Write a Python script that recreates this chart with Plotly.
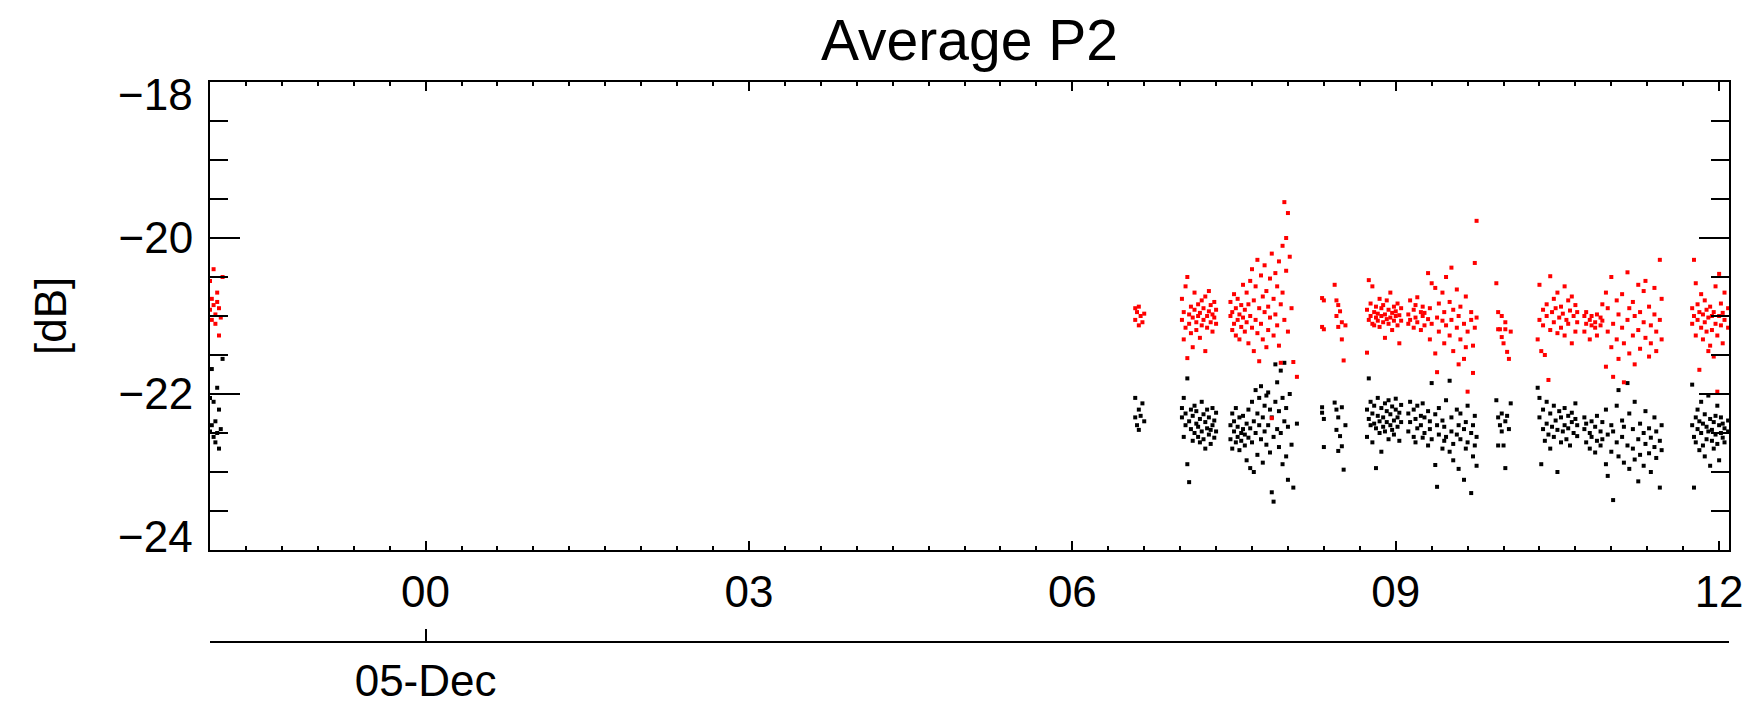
import pandas as pd
import plotly.graph_objects as go

# ---------------- data (minutes from 05-Dec 00:00, dB values) ----------------
t_L = [-120, -120, -119, -119, -118, -118, -117, -117, -116, -116, -115, -115, -114, -113]
red_L = [-20.55, -20.92, -20.78, -21.05, -20.86, -20.40, -20.98, -21.10, -20.82, -20.70, -21.25, -20.90, -21.02, -20.50]
blk_L = [-22.05, -22.48, -21.68, -22.40, -22.55, -22.10, -22.62, -22.35, -21.92, -22.50, -22.20, -22.70, -22.45, -21.55]

t_A = [395, 395, 396, 397, 397, 398, 399, 400]
red_A = [-20.90, -21.05, -20.95, -21.12, -20.88, -21.00, -21.08, -20.97]
blk_A = [-22.30, -22.05, -22.40, -22.20, -22.46, -22.28, -22.12, -22.35]

t_B = [421, 421, 422, 422, 423, 423, 424, 424, 425, 425, 426, 426, 427, 427, 428, 428, 429, 429, 430, 430,
       431, 431, 432, 432, 433, 433, 434, 434, 435, 435, 436, 436, 437, 437, 438, 438, 439, 439, 440, 440]
red_B = [-21.05, -20.78, -21.30, -20.95, -21.15, -20.62, -20.50, -21.54, -20.98, -21.10, -21.22, -20.88, -21.40, -21.02,
         -20.92, -20.70, -21.08, -21.18, -20.85, -21.00, -21.28, -20.96, -20.80, -21.12, -21.05, -20.90, -21.45, -20.75,
         -21.00, -21.15, -20.94, -20.68, -21.08, -20.86, -21.20, -20.98, -21.02, -20.82, -21.10, -20.92]
blk_B = [-22.30, -22.18, -22.55, -22.05, -22.40, -22.25, -21.80, -22.90, -23.13, -22.35, -22.20, -22.45, -22.60, -22.28,
         -22.15, -22.50, -22.38, -22.22, -22.55, -22.42, -22.32, -22.62, -22.10, -22.48, -22.26, -22.58, -22.36, -22.70,
         -22.44, -22.20, -22.52, -22.30, -22.46, -22.64, -22.18, -22.40, -22.34, -22.56, -22.24, -22.48]

t_C = [448, 448, 449, 449, 450, 450, 451, 451, 452, 452, 453, 453, 454, 454, 455, 455, 456, 456, 457, 457,
       458, 458, 459, 459, 460, 460, 461, 461, 462, 462, 463, 463, 464, 464, 465, 465, 466, 466, 467, 467,
       468, 468, 469, 469, 470, 470, 471, 471, 472, 472, 473, 473, 474, 474, 475, 475, 476, 476, 477, 477,
       478, 478, 479, 479, 480, 480, 481, 482, 483, 485]
red_C = [-21.00, -20.82, -21.18, -20.95, -20.72, -21.10, -21.25, -20.90, -21.05, -20.78, -21.30, -20.98, -20.86, -21.14,
         -21.02, -20.60, -21.20, -20.92, -20.70, -21.08, -21.35, -20.85, -21.00, -20.55, -21.15, -20.40, -20.80, -21.45,
         -21.05, -20.62, -20.28, -21.22, -20.90, -21.58, -20.48, -21.10, -20.75, -21.30, -20.95, -20.35, -21.40, -20.68,
         -20.88, -21.18, -20.52, -21.02, -20.20, -22.31, -20.78, -21.25, -20.45, -20.98, -21.12, -20.62, -20.30, -21.38,
         -20.85, -21.60, -20.10, -20.70, -19.54, -21.05, -20.00, -20.42, -19.68, -21.20, -20.24, -20.90, -21.59, -21.78]
blk_C = [-22.40, -22.58, -22.25, -22.70, -22.48, -22.35, -22.62, -22.18, -22.55, -22.42, -22.30, -22.72, -22.50, -22.60,
         -22.45, -22.28, -22.66, -22.52, -22.38, -22.85, -22.20, -22.56, -22.95, -22.44, -22.10, -22.62, -22.35, -23.00,
         -21.95, -22.50, -22.25, -22.78, -22.05, -22.40, -22.58, -21.90, -22.30, -22.88, -22.15, -22.48, -22.65, -22.02,
         -21.98, -22.40, -22.20, -22.75, -23.26, -22.30, -22.55, -23.38, -21.62, -22.10, -22.45, -21.85, -22.68, -22.22,
         -21.70, -22.50, -22.90, -22.05, -22.35, -21.60, -22.80, -22.18, -23.10, -22.42, -22.00, -22.65, -23.20, -22.38]

t_D = [499, 499, 500, 500]
red_D = [-20.77, -21.14, -20.80, -21.17]
blk_D = [-22.17, -22.24, -22.32, -22.68]

t_E = [506, 507, 507, 508, 508, 509, 510, 510, 511, 512]
red_E = [-20.60, -20.80, -21.00, -20.86, -21.14, -20.94, -21.30, -21.08, -21.57, -21.12]
blk_E = [-22.11, -22.46, -22.20, -22.73, -22.30, -22.54, -22.17, -22.67, -22.97, -22.40]

t_F = [524, 524, 525, 525, 526, 526, 527, 527, 528, 528, 529, 529, 530, 530, 531, 531, 532, 532, 533, 533,
       534, 534, 535, 535, 536, 536, 537, 537, 538, 538, 539, 539, 540, 540, 541, 541, 542, 542, 543, 543]
red_F = [-21.47, -20.92, -20.54, -21.05, -20.84, -21.00, -21.10, -20.62, -20.95, -21.12, -20.88, -21.02, -21.06, -20.97,
         -20.78, -21.14, -21.00, -20.90, -21.08, -20.86, -20.98, -21.28, -21.04, -20.80, -20.92, -21.10, -21.02, -20.70,
         -20.96, -21.18, -21.06, -20.88, -20.94, -21.00, -21.12, -20.84, -20.99, -21.35, -20.90, -21.06]
blk_F = [-22.20, -22.55, -21.80, -22.32, -22.10, -22.40, -22.62, -22.25, -22.38, -22.15, -22.95, -22.44, -22.28, -22.05,
         -22.50, -22.35, -22.18, -22.74, -22.42, -22.30, -22.12, -22.48, -22.36, -22.22, -22.58, -22.08, -22.26, -22.40,
         -22.46, -22.16, -22.34, -22.52, -22.20, -22.06, -22.42, -22.30, -22.24, -22.60, -22.36, -22.14]

t_G = [547, 547, 548, 548, 550, 550, 551, 551, 552, 552, 554, 554, 555, 555, 556, 556, 558, 558, 559, 559,
       560, 560, 562, 562, 563, 563, 564, 564, 566, 566, 567, 567, 568, 568, 570, 570, 571, 571, 572, 572,
       574, 574, 575, 575, 576, 576, 578, 578, 579, 579, 580, 580, 582, 582, 583, 583, 584, 584, 585, 585]
red_G = [-20.98, -21.10, -20.80, -21.05, -21.15, -20.92, -20.86, -21.02, -21.08, -20.76, -20.95, -21.18, -21.00, -20.88,
         -21.12, -20.96, -20.45, -21.04, -21.30, -20.90, -20.58, -21.10, -21.48, -20.64, -21.02, -21.72, -20.84, -21.20,
         -21.06, -20.70, -20.95, -21.35, -20.50, -21.12, -21.25, -20.82, -20.38, -21.05, -21.45, -20.92, -21.15, -20.66,
         -21.62, -21.00, -20.88, -21.30, -21.10, -21.55, -20.75, -21.40, -21.20, -21.97, -21.05, -20.95, -21.38, -21.73,
         -20.32, -21.15, -19.78, -21.02]
blk_G = [-22.25, -22.48, -22.10, -22.36, -22.55, -22.20, -22.32, -22.62, -22.15, -22.44, -22.40, -22.28, -22.56, -22.12,
         -22.30, -22.50, -22.22, -22.66, -22.45, -22.35, -21.86, -22.58, -22.91, -22.26, -22.40, -23.19, -22.52, -22.18,
         -22.34, -22.70, -22.60, -22.42, -22.08, -22.55, -21.83, -22.74, -22.48, -22.30, -22.64, -22.85, -22.20, -22.52,
         -22.96, -22.40, -22.58, -22.25, -22.45, -23.10, -22.70, -22.36, -22.15, -22.62, -23.27, -22.50, -22.40, -22.80,
         -22.66, -22.28, -22.55, -22.92]

t_H = [596, 597, 597, 598, 599, 599, 600, 601, 601, 602, 603, 604]
red_H = [-20.58, -21.17, -20.95, -21.17, -21.27, -21.00, -21.35, -21.17, -21.08, -21.46, -21.55, -21.20]
blk_H = [-22.08, -22.30, -22.66, -22.40, -22.25, -22.48, -22.66, -22.35, -22.95, -22.28, -22.45, -22.12]

t_I = [619, 620, 620, 621, 622, 622, 623, 624, 624, 625, 626, 626, 627, 628, 628, 629, 630, 630, 631, 632,
       632, 633, 634, 634, 635, 636, 636, 637, 638, 638, 639, 640, 640, 641, 641]
red_I = [-21.30, -20.60, -21.05, -21.45, -20.92, -21.12, -21.50, -20.85, -21.00, -21.82, -20.49, -21.18, -20.95, -20.78,
         -21.08, -20.90, -21.22, -20.70, -21.02, -20.88, -21.15, -20.97, -20.62, -21.25, -21.05, -20.80, -21.10, -20.93,
         -21.35, -20.75, -21.00, -20.86, -21.20, -20.95, -21.08]
blk_I = [-21.92, -22.30, -22.05, -22.90, -22.45, -22.20, -22.60, -22.10, -22.38, -22.52, -22.25, -22.70, -22.42, -22.15,
         -22.55, -22.34, -23.00, -22.46, -22.22, -22.62, -22.30, -22.48, -22.18, -22.40, -22.58, -22.28, -22.44, -22.66,
         -22.36, -22.24, -22.50, -22.32, -22.12, -22.54, -22.40]

t_J = [645, 645, 646, 646, 648, 648, 649, 649, 651, 651, 652, 652, 654, 654, 655, 655, 657, 657, 658, 658,
       660, 660, 661, 661, 663, 663, 664, 664, 666, 666, 667, 667, 669, 669, 670, 670, 672, 672, 673, 673,
       675, 675, 676, 676, 678, 678, 679, 679, 681, 681, 682, 682, 684, 684, 685, 685, 687, 687, 688, 688]
red_J = [-21.00, -21.20, -21.10, -20.95, -21.30, -21.05, -21.12, -21.00, -21.08, -21.15, -20.98, -21.25, -21.12, -21.02,
         -21.06, -20.85, -21.65, -20.70, -21.20, -20.90, -20.50, -21.40, -21.10, -21.78, -20.80, -21.30, -21.55, -20.98,
         -20.72, -21.15, -21.35, -21.85, -20.44, -21.05, -20.90, -21.48, -21.25, -20.82, -21.62, -21.00, -20.60, -21.18,
         -21.42, -20.95, -21.08, -20.68, -20.55, -21.28, -21.52, -20.88, -21.12, -21.35, -20.64, -20.98, -21.20, -21.45,
         -20.28, -21.05, -20.78, -21.30]
blk_J = [-22.45, -22.30, -22.62, -22.38, -22.50, -22.70, -22.35, -22.55, -22.42, -22.75, -22.60, -22.28, -22.48, -22.66,
         -22.36, -22.58, -22.90, -22.20, -22.52, -23.05, -22.40, -22.74, -23.36, -22.48, -22.62, -22.15, -21.95, -22.80,
         -22.55, -22.34, -22.88, -22.42, -21.86, -22.66, -22.25, -22.96, -22.70, -22.45, -22.10, -22.84, -22.58, -23.12,
         -22.38, -22.78, -22.92, -22.50, -22.22, -22.64, -22.76, -22.44, -22.56, -23.00, -22.30, -22.68, -22.82, -22.48,
         -23.20, -22.60, -22.40, -22.72]

t_K = [705, 705, 706, 706, 707, 707, 708, 708, 709, 709, 710, 710, 711, 711, 712, 712, 713, 713, 714, 714,
       715, 715, 716, 716, 717, 717, 718, 718, 719, 719, 720, 720, 721, 721, 722, 722, 723, 723, 725, 725]
red_K = [-20.90, -21.10, -20.28, -21.00, -20.58, -21.25, -20.85, -21.05, -21.69, -20.95, -21.15, -20.72, -20.98, -21.30,
         -20.80, -21.08, -21.20, -20.92, -21.45, -21.02, -21.38, -20.88, -21.00, -21.18, -20.95, -21.52, -20.62, -21.10,
         -21.97, -21.25, -20.46, -21.00, -21.12, -20.84, -20.96, -21.35, -21.05, -20.70, -20.90, -21.15]
blk_K = [-21.88, -22.40, -23.20, -22.55, -22.30, -22.62, -22.45, -22.20, -22.72, -22.35, -22.50, -22.10, -22.38, -22.66,
         -22.26, -22.80, -22.58, -22.42, -22.02, -22.48, -22.92, -22.32, -22.46, -22.60, -22.36, -22.70, -22.52, -22.28,
         -22.64, -22.15, -22.40, -22.85, -22.30, -22.50, -22.56, -22.38, -22.44, -22.62, -22.34, -22.48]

y_ticks = [-24, -22, -20, -18]
y_ticktext = ["\u221224", "\u221222", "\u221220", "\u221218"]

minutes = t_L + t_A + t_B + t_C + t_D + t_E + t_F + t_G + t_H + t_I + t_J + t_K
red_vals = red_L + red_A + red_B + red_C + red_D + red_E + red_F + red_G + red_H + red_I + red_J + red_K
blk_vals = blk_L + blk_A + blk_B + blk_C + blk_D + blk_E + blk_F + blk_G + blk_H + blk_I + blk_J + blk_K

day0 = pd.Timestamp("2019-12-05 00:00")
times = [day0 + pd.Timedelta(minutes=m) for m in minutes]
x_start = day0 + pd.Timedelta(minutes=-120)
x_end = day0 + pd.Timedelta(minutes=725.5)

FONT = "Liberation Sans, Arial, sans-serif"

fig = go.Figure()
fig.add_trace(go.Scatter(x=times, y=blk_vals, mode="markers",
                         marker=dict(color="#000000", size=4, symbol="square", line=dict(width=0)),
                         showlegend=False))
fig.add_trace(go.Scatter(x=times, y=red_vals, mode="markers",
                         marker=dict(color="#ff0000", size=4, symbol="square", line=dict(width=0)),
                         showlegend=False))
# carrier trace for the date axis
fig.add_trace(go.Scatter(x=[x_start], y=[None], xaxis="x2", mode="markers",
                         marker=dict(size=0, opacity=0), showlegend=False, hoverinfo="skip"))

# the page body has an 8px margin, so the figure is sized/offset to compensate
W, H = 1747, 700
L, R, T, B = 202, 26, 74, 66
plot_w = W - L - R
plot_h = H - T - B
ydom0 = (634 - 542) / plot_h

# end labels of the y axis sit slightly inside the box (IDL style)
end_label_ann = []
for v, txt, shift in [(y_ticks[-1], y_ticktext[-1], -12), (y_ticks[0], y_ticktext[0], 14)]:
    end_label_ann.append(dict(text=txt, xref="paper", yref="y", x=0, y=v, xanchor="right",
                              yanchor="middle", xshift=-15, yshift=shift, showarrow=False,
                              font=dict(family=FONT, size=44, color="black")))

fig.update_layout(
    template="none",
    width=W, height=H,
    margin=dict(l=L, r=R, t=T, b=B, pad=0),
    paper_bgcolor="white", plot_bgcolor="white",
    font=dict(family=FONT, size=44, color="black"),
    title=dict(text="Average P2", x=(L + plot_w / 2) / W, xref="container", xanchor="center",
               y=1 - 32 / H, yref="container", yanchor="middle", automargin=False,
               font=dict(family=FONT, size=57, color="black")),
    xaxis=dict(
        type="date", range=[x_start, x_end], automargin=False,
        showline=True, linecolor="black", linewidth=2, mirror="ticks",
        ticks="inside", ticklen=9, tickwidth=2, tickcolor="black",
        tick0=day0, dtick=3 * 3600 * 1000, tickformat="%H",
        ticklabelstandoff=2,
        minor=dict(ticks="inside", ticklen=4, tickwidth=2, tickcolor="black",
                   dtick=20 * 60 * 1000, showgrid=False),
        showgrid=False, zeroline=False,
        tickfont=dict(family=FONT, size=44, color="black"),
    ),
    xaxis2=dict(
        type="date", range=[x_start, x_end], overlaying="x", anchor="free", position=0,
        automargin=False,
        showline=True, linecolor="black", linewidth=2,
        ticks="inside", ticklen=12, tickwidth=2, tickcolor="black",
        tick0=day0, dtick=10 * 24 * 3600 * 1000, tickformat="%d-%b",
        ticklabelstandoff=0,
        showgrid=False, zeroline=False,
        tickfont=dict(family=FONT, size=44, color="black"),
    ),
    yaxis=dict(
        domain=[ydom0, 1], range=[-24, -18], automargin=False,
        showline=True, linecolor="black", linewidth=2, mirror="ticks",
        ticks="inside", ticklen=30, tickwidth=2, tickcolor="black",
        tickvals=y_ticks, ticktext=["", y_ticktext[1], y_ticktext[2], ""],
        ticklabelstandoff=6,
        minor=dict(ticks="inside", ticklen=18, tickwidth=2, tickcolor="black",
                   dtick=0.5, tick0=-18, showgrid=False),
        showgrid=False, zeroline=False,
        tickfont=dict(family=FONT, size=44, color="black"),
    ),
    annotations=[dict(text="[dB]", textangle=-90, xref="paper", yref="paper",
                      x=(42 - L) / plot_w, y=1 - ((308 - T) / plot_h),
                      xanchor="center", yanchor="middle", showarrow=False,
                      font=dict(family=FONT, size=44, color="black"))] + end_label_ann,
)

fig.write_html("out.html")
